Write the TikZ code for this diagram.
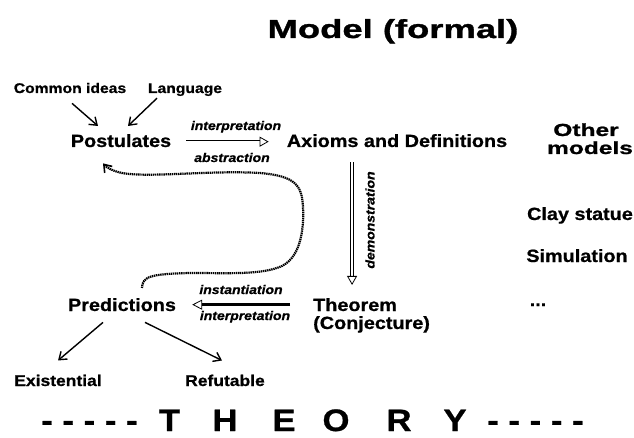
\documentclass[tikz,border=0pt]{standalone}
\usepackage{fontspec}
\setmainfont{Liberation Sans}
\newfontfamily\hv[FakeStretch=1.12,FakeBold=0.8]{Liberation Sans}
\newfontfamily\hvw[FakeStretch=1.4,FakeBold=1.2]{Liberation Sans}
\usetikzlibrary{arrows.meta,calc}
\tikzset{
  lbl/.style={anchor=base, inner sep=0pt, font=\hv\bfseries\fontsize{17.7}{20}\selectfont},
  smalllbl/.style={anchor=base, inner sep=0pt, font=\hv\bfseries\fontsize{14}{16}\selectfont},
  leaflbl/.style={anchor=base, inner sep=0pt, font=\hv\bfseries\fontsize{15.6}{18}\selectfont},
  itlbl/.style={anchor=base, inner sep=0pt, font=\hv\bfseries\itshape\fontsize{12.5}{14}\selectfont},
  widelbl/.style={anchor=base, inner sep=0pt, font=\hvw\bfseries\fontsize{17.5}{20}\selectfont},
  theorylbl/.style={anchor=base, inner sep=0pt, font=\hv\bfseries\fontsize{31}{34}\selectfont},
  thinarrow/.style={line width=1.4pt, -{Straight Barb[length=7pt,width=10pt,line width=1.4pt]}},
  dblarrow/.style={double, double distance=2pt, line width=0.8pt,
    -{Triangle[open,length=9pt,width=10pt,line width=0.8pt]}},
  heavyarrow/.style={line width=2.6pt, -{Triangle[open,length=10pt,width=10pt,line width=0.8pt]}},
  dotcurve/.style={line width=2.2pt, dash pattern=on 1.4pt off 0.7pt,
    -{Straight Barb[length=7pt,width=10pt,line width=1.6pt]}},
}
\begin{document}
\begin{tikzpicture}[x=1pt,y=-1pt]
\useasboundingbox (0,0) rectangle (634,438);
% title
\node[anchor=base, inner sep=0pt, font=\hvw\bfseries\fontsize{26}{30}\selectfont] (title) at (393,38) {Model (formal)};
% top
\node[smalllbl] (ci) at (70,93) {Common ideas};
\node[smalllbl] (lang) at (185,93) {Language};
\node[lbl] (post) at (121,147) {Postulates};
\node[lbl] (axm) at (397,147) {Axioms and Definitions};
\node[itlbl] (interp1) at (236,130) {interpretation};
\node[itlbl] (abstr) at (232,162) {abstraction};
% other models
\node[widelbl] (other) at (586,136) {Other};
\node[widelbl] (models) at (590,154) {models};
\node[lbl] (clay) at (580,220) {Clay statue};
\node[lbl] (simul) at (577,262) {Simulation};
\node[lbl] (dots) at (538,306) {...};
% theorem
\node[lbl, anchor=base west] (thm) at (313,311) {Theorem};
\node[lbl, anchor=base west] (conj) at (313,329) {(Conjecture)};
\node[itlbl, rotate=90, anchor=center] (demo) at (370,220) {demonstration};
% predictions
\node[lbl] (pred) at (122,311) {Predictions};
\node[itlbl] (inst) at (241,294) {instantiation};
\node[itlbl] (interp2) at (245,320) {interpretation};
\node[leaflbl] (exist) at (58,386) {Existential};
\node[leaflbl] (refut) at (225,386) {Refutable};
% theory line
\node[theorylbl] (dl) at (89.5,431) {- - - - -};
\node[theorylbl] (tT) at (169.5,431) {T};
\node[theorylbl] (tH) at (225,431) {H};
\node[theorylbl] (tE) at (284,431) {E};
\node[theorylbl] (tO) at (336,431) {O};
\node[theorylbl] (tR) at (399,431) {R};
\node[theorylbl] (tY) at (455,431) {Y};
\node[theorylbl] (dr) at (535.5,431) {- - - - -};
% connectors
\draw[thinarrow] ($(ci.south)+(2,10)$) -- ($(post.north)+(-23,-8)$);
\draw[thinarrow] ($(lang.south)+(-28,2)$) -- ($(post.north)+(7,-8)$);
\draw[dblarrow] ($(post.east)+(15,1)$) -- ($(axm.west)+(-18,1)$);
\draw[dblarrow] ($(axm.south -| thm.north)+(-3,15)$) -- ($(thm.north)+(-3,-13)$);
\draw[heavyarrow] ($(thm.west)+(-23,0)$) -- ($(pred.east)+(16,0)$);
\draw[thinarrow] ($(pred.south)+(-19,11)$) -- ($(exist.north)+(0,-14)$);
\draw[thinarrow] ($(pred.south)+(23,11)$) -- ($(refut.north)+(-3,-14)$);
\draw[dotcurve] ($(pred.north)+(20,-10)$)
  .. controls (142,276) and (152,274) .. (190,273)
  .. controls (230,273) and (262,275) .. (282,266)
  .. controls (302,256) and (304,225) .. (303,207)
  .. controls (302,185) and (295,176) .. (260,173)
  .. controls (210,170) and (150,178) .. (122,173)
  .. controls (113,171) and (107,168) .. ($(post.south)+(-18,16)$);
\end{tikzpicture}
\end{document}
